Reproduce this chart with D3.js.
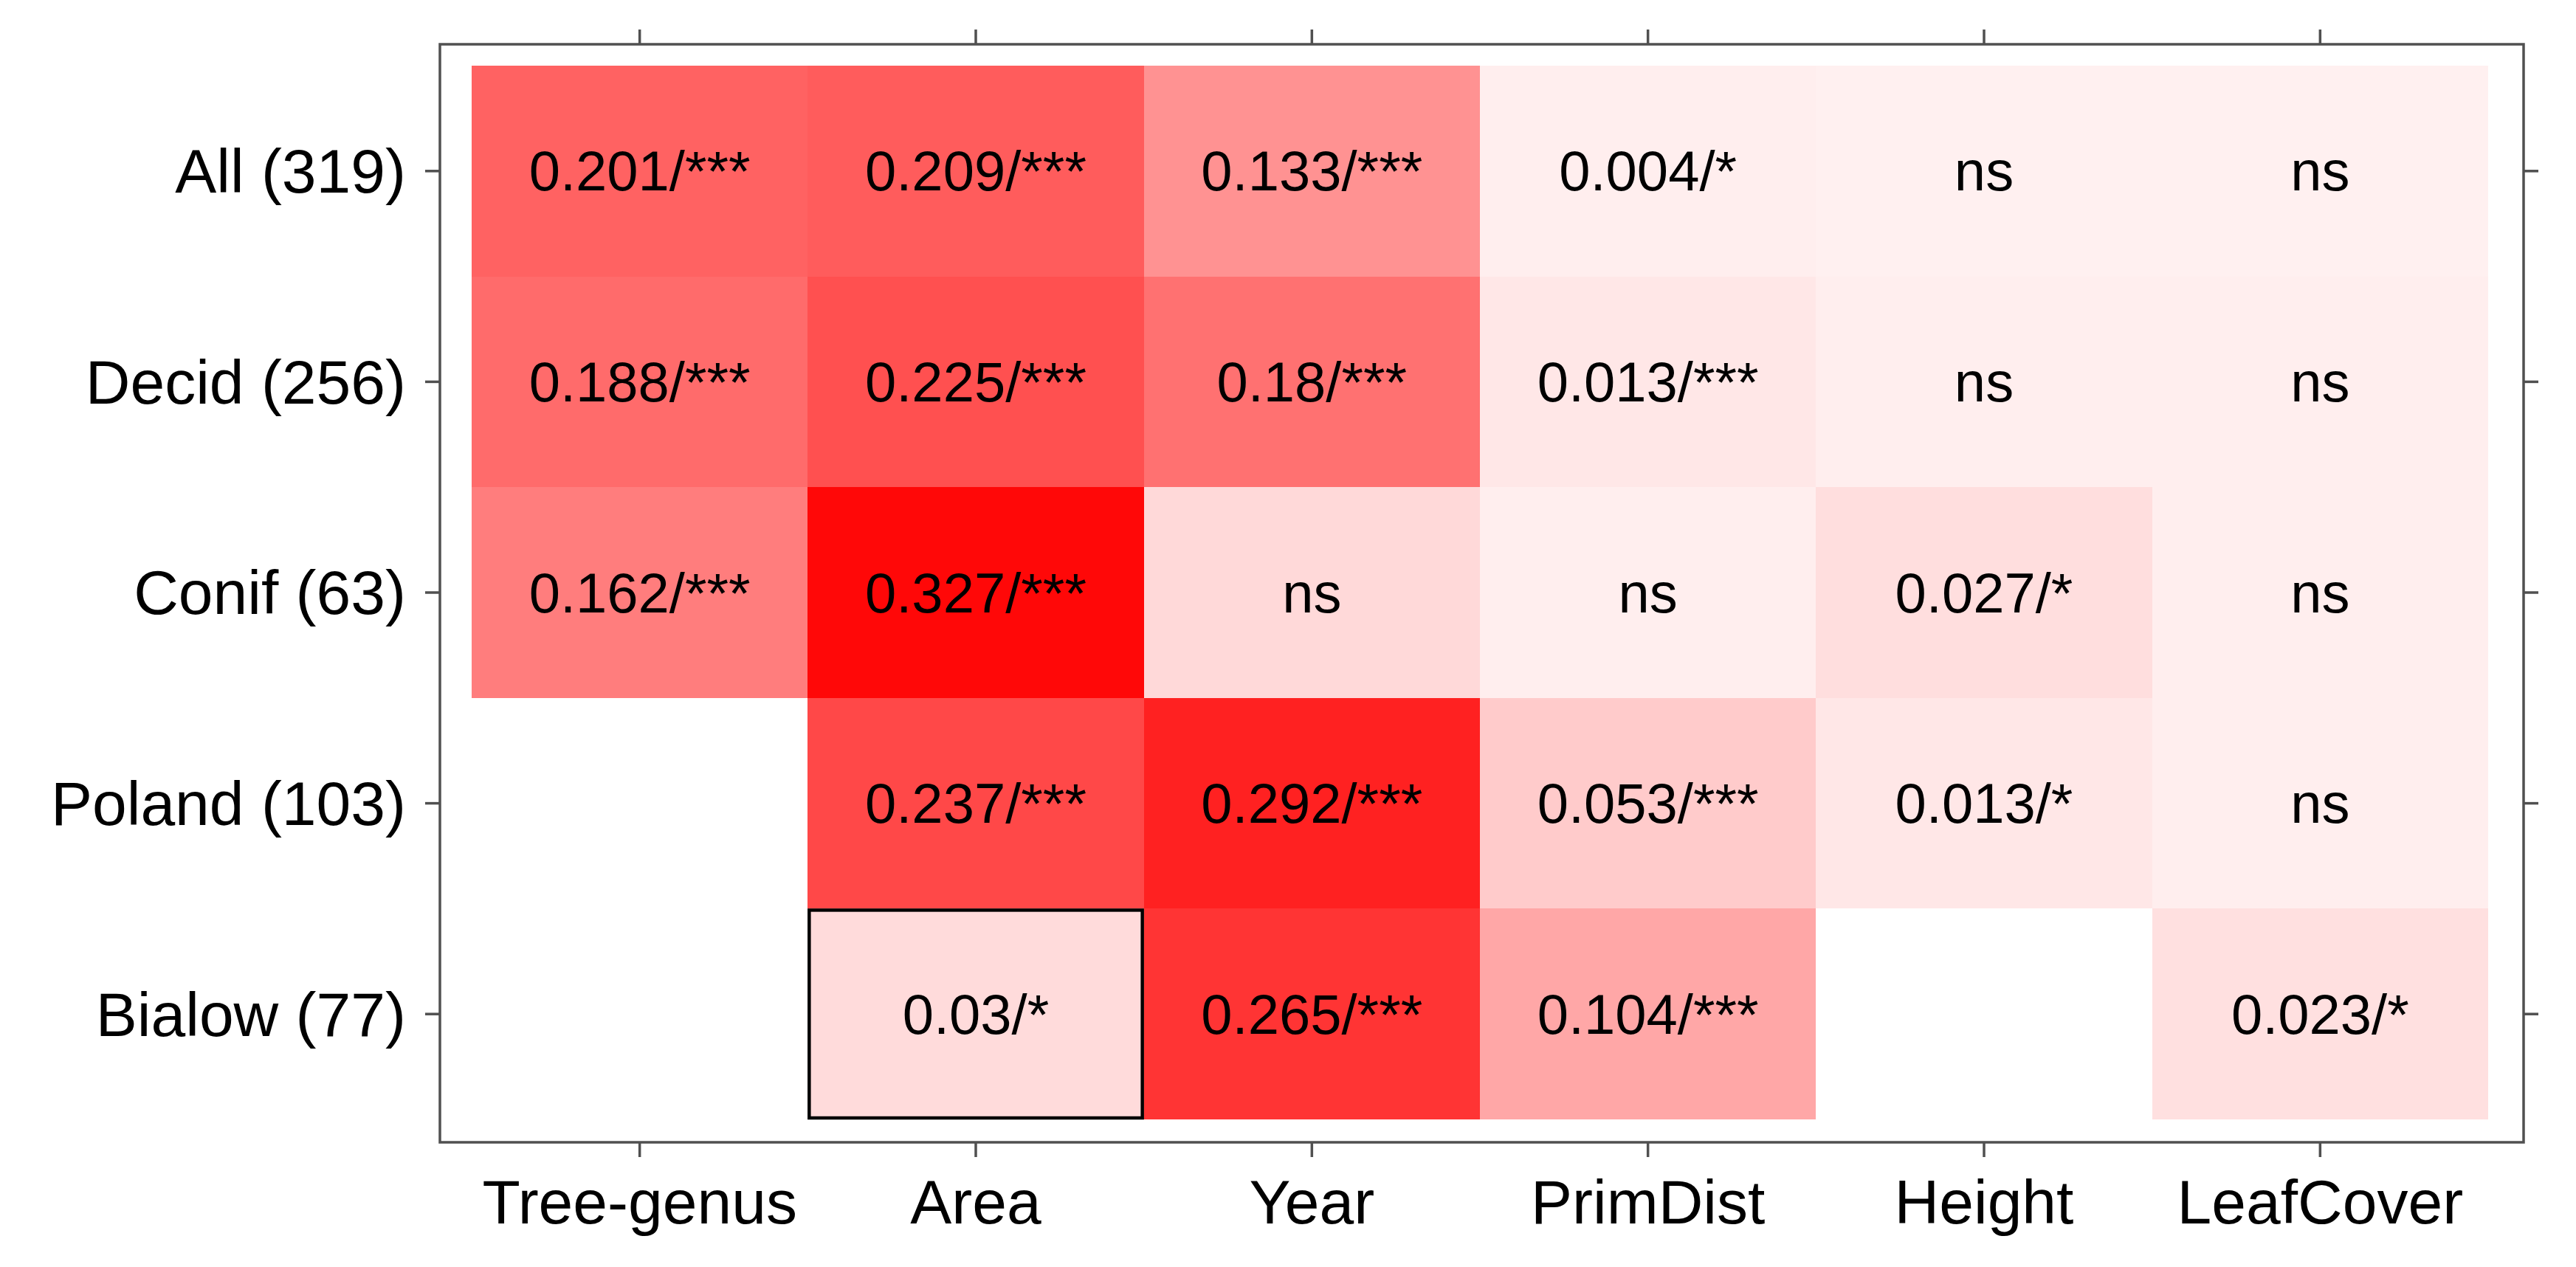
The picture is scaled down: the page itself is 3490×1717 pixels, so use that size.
<!DOCTYPE html>
<html>
<head>
<meta charset="utf-8">
<script src="https://cdn.jsdelivr.net/npm/d3@7"></script>
<style>
  html, body { margin: 0; padding: 0; background: #ffffff; }
  svg { display: block; }
  text { font-family: "Liberation Sans", Arial, sans-serif; }
</style>
</head>
<body>
<svg id="chart" width="3490" height="1717"></svg>
<script>
// ---- data ----
const rowLabels = ["All (319)", "Decid (256)", "Conif (63)", "Poland (103)", "Bialow (77)"];
const colLabels = ["Tree-genus", "Area", "Year", "PrimDist", "Height", "LeafCover"];

// R2 values per row (null = not tested / empty cell)
const r2All    = [0.201, 0.209, 0.133, 0.004, 0.001, 0.001];
const r2Decid  = [0.188, 0.225, 0.18, 0.013, 0.004, 0.004];
const r2Conif  = [0.162, 0.327, 0.033, 0.004, 0.027, 0.004];
const r2Poland = [null, 0.237, 0.292, 0.053, 0.013, 0.004];
const r2Bialow = [null, 0.03, 0.265, 0.104, null, 0.023];

// significance codes per row
const sigAll    = ["***", "***", "***", "*", "ns", "ns"];
const sigDecid  = ["***", "***", "***", "***", "ns", "ns"];
const sigConif  = ["***", "***", "ns", "ns", "*", "ns"];
const sigPoland = [null, "***", "***", "***", "*", "ns"];
const sigBialow = [null, "*", "***", "***", null, "*"];

// highlighted (outlined) cell
const highlightRow = "Bialow (77)";
const highlightCol = "Area";

// colour scale limits
const colorDomain = [-0.02, 0.338];

// ---- build cells ----
const r2Rows = [r2All, r2Decid, r2Conif, r2Poland, r2Bialow];
const sigRows = [sigAll, sigDecid, sigConif, sigPoland, sigBialow];
const cells = [];
rowLabels.forEach((r, i) => {
  colLabels.forEach((c, j) => {
    const v = r2Rows[i][j];
    const s = sigRows[i][j];
    if (v === null || s === null) return;
    cells.push({ row: r, col: c, value: v, sig: s,
      label: s === "ns" ? "ns" : String(v) + "/" + s });
  });
});

// ---- layout ----
const svg = d3.select("#chart");
const frame = { x0: 596, x1: 3419, y0: 60, y1: 1548 };
const inner = { x0: 639, x1: 3371, y0: 89, y1: 1517 };

const x = d3.scaleBand().domain(colLabels).range([inner.x0, inner.x1]).padding(0);
const y = d3.scaleBand().domain(rowLabels).range([inner.y0, inner.y1]).padding(0);
const color = d3.scaleLinear().domain(colorDomain).range(["#ffffff", "#ff0000"]).clamp(true);

// cells
svg.append("g").selectAll("rect")
  .data(cells).join("rect")
  .attr("x", d => x(d.col))
  .attr("y", d => y(d.row))
  .attr("width", x.bandwidth())
  .attr("height", y.bandwidth())
  .attr("fill", d => color(d.value))
  .attr("shape-rendering", "crispEdges");

// highlight box
svg.append("rect")
  .attr("x", x(highlightCol) + 2)
  .attr("y", y(highlightRow) + 2)
  .attr("width", x.bandwidth() - 4)
  .attr("height", y.bandwidth() - 4)
  .attr("fill", "none")
  .attr("stroke", "#000")
  .attr("stroke-width", 4.5);

// cell labels
svg.append("g").selectAll("text")
  .data(cells).join("text")
  .attr("x", d => x(d.col) + x.bandwidth() / 2)
  .attr("y", d => y(d.row) + y.bandwidth() / 2)
  .attr("text-anchor", "middle")
  .attr("dominant-baseline", "central")
  .attr("font-size", 76)
  .attr("fill", "#000")
  .text(d => d.label);

// frame
const axisColor = "#505050";
svg.append("rect")
  .attr("x", frame.x0).attr("y", frame.y0)
  .attr("width", frame.x1 - frame.x0).attr("height", frame.y1 - frame.y0)
  .attr("fill", "none").attr("stroke", axisColor).attr("stroke-width", 3.5);

const tickLen = 20;
// axes via d3 axis generators
const axBottom = d3.axisBottom(x).tickSize(tickLen).tickPadding(30);
const axTop = d3.axisTop(x).tickSize(tickLen).tickFormat("");
const axLeft = d3.axisLeft(y).tickSize(tickLen).tickPadding(26);
const axRight = d3.axisRight(y).tickSize(tickLen).tickFormat("");

function styleAxis(g) {
  g.select(".domain").remove();
  g.selectAll(".tick line").attr("stroke", axisColor).attr("stroke-width", 3.5);
  g.selectAll(".tick text").attr("fill", "#000").attr("font-size", 84)
    .attr("font-family", "Liberation Sans, Arial, sans-serif");
}

svg.append("g").attr("transform", `translate(0,${frame.y1})`).call(axBottom).call(styleAxis)
  .selectAll(".tick text").attr("dy", "0.71em");
svg.append("g").attr("transform", `translate(0,${frame.y0})`).call(axTop).call(styleAxis);
svg.append("g").attr("transform", `translate(${frame.x0},0)`).call(axLeft).call(styleAxis)
  .selectAll(".tick text").attr("dy", "0.35em");
svg.append("g").attr("transform", `translate(${frame.x1},0)`).call(axRight).call(styleAxis);
</script>
</body>
</html>
